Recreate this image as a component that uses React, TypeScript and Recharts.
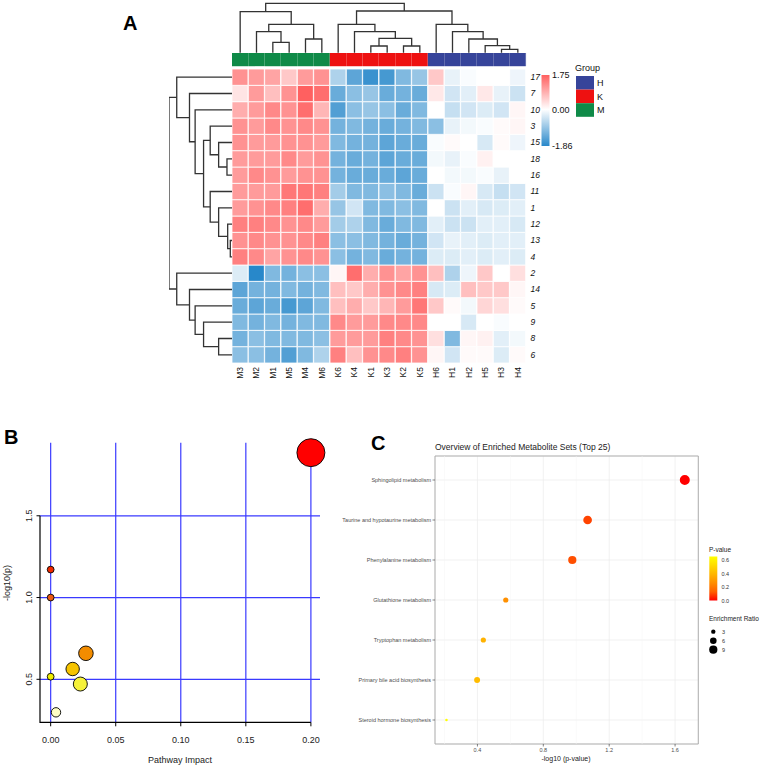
import React from 'react';
import {
  BarChart, Bar, Cell, XAxis, YAxis, ComposedChart, Line, ScatterChart, Scatter, ZAxis,
  CartesianGrid, ReferenceLine, ReferenceArea,
} from 'recharts';

const FONT = '"Liberation Sans", Arial, Helvetica, sans-serif';

// ---------------- Panel A data ----------------
const columns = ['M3', 'M2', 'M1', 'M5', 'M4', 'M6', 'K6', 'K4', 'K1', 'K3', 'K2', 'K5', 'H6', 'H1', 'H2', 'H5', 'H3', 'H4'];
const columnGroups = ['M', 'M', 'M', 'M', 'M', 'M', 'K', 'K', 'K', 'K', 'K', 'K', 'H', 'H', 'H', 'H', 'H', 'H'];
const rowLabels = ['17', '7', '10', '3', '15', '18', '16', '11', '1', '12', '13', '4', '2', '14', '5', '9', '8', '6'];
const zScores: number[][] = [
  [1.2, 1.1, 1.0, 0.6, 1.1, 1.2, -0.7, -1.4, -1.7, -1.6, -1.1, -0.9, 0.6, -0.2, -0.05, 0.0, 0.0, -0.15],
  [0.3, 1.1, 0.7, 1.2, 1.75, 1.6, -1.3, -1.0, -0.9, -1.3, -1.2, -1.3, 0.25, -0.4, -0.25, 0.25, -0.2, -0.45],
  [0.9, 1.1, 1.3, 1.2, 1.6, 0.8, -1.5, -1.0, -0.9, -1.0, -1.3, -1.1, 0.0, -0.5, -0.4, -0.3, -0.4, 0.1],
  [1.2, 1.1, 1.3, 1.2, 1.3, 1.2, -1.2, -1.1, -1.2, -1.3, -1.2, -1.1, -1.0, -0.2, -0.1, -0.05, 0.05, 0.1],
  [1.2, 1.1, 1.1, 1.2, 1.2, 1.1, -1.1, -1.2, -1.2, -1.4, -1.3, -1.3, -0.05, 0.05, 0.0, -0.35, 0.05, -0.15],
  [1.1, 1.1, 1.1, 1.3, 1.1, 1.2, -1.2, -1.3, -1.2, -1.4, -1.3, -1.3, -0.1, -0.2, -0.05, 0.15, 0.0, 0.0],
  [1.1, 1.3, 1.2, 1.1, 1.2, 1.2, -1.2, -1.3, -1.3, -1.3, -1.4, -1.3, 0.0, -0.1, -0.1, -0.05, -0.2, 0.0],
  [1.1, 1.1, 1.1, 1.5, 1.5, 1.4, -0.8, -1.1, -1.1, -1.0, -1.1, -1.3, -0.45, -0.05, 0.1, -0.35, -0.5, -0.4],
  [1.1, 1.2, 1.3, 1.4, 1.6, 0.9, -0.9, -0.4, -1.1, -1.1, -1.0, -1.1, 0.0, -0.45, -0.25, -0.35, -0.3, -0.25],
  [1.4, 1.4, 1.3, 1.2, 1.3, 1.1, -0.8, -0.7, -1.1, -1.3, -1.1, -1.1, -0.25, -0.45, -0.45, -0.25, -0.25, -0.35],
  [1.2, 1.3, 1.2, 1.2, 1.3, 1.4, -1.0, -1.0, -1.1, -1.2, -1.3, -1.2, -0.4, -0.2, -0.25, -0.3, -0.25, -0.25],
  [1.4, 1.3, 1.0, 1.2, 1.3, 1.2, -1.0, -1.2, -1.1, -1.3, -1.2, -1.2, -0.3, -0.3, -0.25, -0.3, -0.25, -0.3],
  [-0.3, -1.86, -1.1, -1.2, -1.0, -1.0, 0.1, 1.6, 0.9, 1.2, 1.0, 1.2, 0.7, -0.7, -0.15, 0.6, 0.0, 0.35],
  [-1.4, -1.2, -1.2, -1.1, -1.2, -1.1, 0.7, 0.6, 0.9, 1.2, 1.3, 1.4, -0.35, -0.3, 0.7, 0.6, 0.6, 0.1],
  [-1.3, -1.4, -1.3, -1.6, -1.4, -1.1, 0.7, 0.9, 0.6, 0.8, 1.1, 1.5, 0.6, 0.05, -0.1, 0.45, 0.35, 0.05],
  [-1.1, -1.2, -1.1, -1.2, -1.1, -1.1, 1.3, 1.1, 1.1, 1.3, 1.3, 1.3, 0.0, 0.0, -0.35, 0.0, -0.05, 0.0],
  [-1.2, -1.0, -1.1, -1.1, -1.1, -1.0, 1.1, 1.1, 1.1, 1.4, 1.3, 1.2, 0.35, -1.1, 0.1, 0.15, -0.25, -0.1],
  [-1.0, -1.0, -1.2, -1.5, -1.1, -0.7, 1.4, 0.7, 1.2, 1.3, 1.4, 1.2, 0.1, -0.4, 0.05, 0.05, -0.3, 0.05],
];
const zMax = 1.75;
const zMin = -1.86;
// hclust-style merges: negative = leaf (1-based), positive = earlier merge (1-based), then height
const colMerges: [number, number, number][] = [
  [-3, -4, 10.4], [-2, 1, 21], [-5, -6, 13.7], [2, 3, 28.4], [-1, 4, 41],
  [-9, -10, 6.7], [-11, -12, 6.7], [6, 7, 14.4], [-8, 8, 21], [-7, 9, 28.4],
  [-17, -18, 3.4], [-16, 11, 7], [-15, 12, 13.7], [-14, 13, 21], [-13, 14, 28.4],
  [10, 15, 41.7], [5, 16, 49.4],
];
const rowMerges: [number, number, number][] = [
  [-6, -7, 5], [-5, 1, 13.3], [-4, 2, 21.7], [-11, -12, 1.7], [-10, 4, 4.3],
  [-9, 5, 13.3], [-8, 6, 21.7], [3, 7, 28.3], [-3, 8, 36.7], [-2, 9, 42.3],
  [-1, 10, 55], [-17, -18, 13.3], [-16, 12, 28.3], [-15, 13, 36.7], [-14, 14, 42.3],
  [-13, 15, 55], [11, 16, 62.7],
];
const groupNames = ['H', 'K', 'M'];
const groupColors: Record<string, string> = { H: '#36449a', K: '#ee1111', M: '#0f8a48' };
const heatLegendTicks = [1.75, 0.0, -1.86];

// ---------------- Panel B data ----------------
const pathwayImpact = [0.2, 0, 0, 0.0271, 0.0169, 0, 0.0228, 0.0041];
const pathwayNegLogP = [1.886, 1.171, 1.0, 0.659, 0.563, 0.516, 0.471, 0.298];
const pathwayBubble = [196, 11.6, 11.6, 53, 45, 11.6, 49, 22];
const pathwayPalette = ['#ff0000', '#f02a00', '#ec5a12', '#f28c00', '#f6c400', '#f0ee00', '#f6f23a', '#ffffc4'];
const bXTicks = [0, 0.05, 0.1, 0.15, 0.2];
const bYTicks = [0.5, 1.0, 1.5];
const bXDomain: [number, number] = [-0.0082, 0.207];
const bYDomain: [number, number] = [0.237, 1.947];

// ---------------- Panel C data ----------------
const setNames = [
  'Sphingolipid metabolism',
  'Taurine and hypotaurine metabolism',
  'Phenylalanine metabolism',
  'Glutathione metabolism',
  'Tryptophan metabolism',
  'Primary bile acid biosynthesis',
  'Steroid hormone biosynthesis',
];
const setNegLogP = [1.659, 1.069, 0.976, 0.572, 0.436, 0.398, 0.212];
const setRatio = [13, 10, 9, 4, 4, 5, 1.5];
const cXTicks = [0.4, 0.8, 1.2, 1.6];
const cXMinor = [0.2, 0.6, 1.0, 1.4];
const pLegendTicks = [0.6, 0.4, 0.2, 0.0];
const ratioLegend = [3, 6, 9];

// ---------------- helpers ----------------
function heatColor(v: number) {
  const hi = [255, 96, 96];
  const lo = [40, 136, 202];
  const t = v >= 0 ? Math.min(v / zMax, 1) : Math.min(v / zMin, 1);
  const end = v >= 0 ? hi : lo;
  const c = end.map((e) => Math.round(255 + (e - 255) * t));
  return `rgb(${c.join(',')})`;
}

function labToRgb(L: number, a: number, b: number) {
  let y = (L + 16) / 116;
  let x = a / 500 + y;
  let z = y - b / 200;
  const f = (t: number) => (t ** 3 > 0.008856 ? t ** 3 : (t - 16 / 116) / 7.787);
  x = 0.95047 * f(x); y = f(y); z = 1.08883 * f(z);
  const r = x * 3.2406 + y * -1.5372 + z * -0.4986;
  const g = x * -0.9689 + y * 1.8758 + z * 0.0415;
  const bb = x * 0.0557 + y * -0.204 + z * 1.057;
  const gam = (c: number) => (c > 0.0031308 ? 1.055 * c ** (1 / 2.4) - 0.055 : 12.92 * c);
  return [r, g, bb].map((c) => Math.round(Math.max(0, Math.min(1, gam(c))) * 255));
}
const setP = setNegLogP.map((v) => Math.pow(10, -v));
const pMin = Math.min(...setP);
const pMax = Math.max(...setP);
function pColor(p: number) {
  const t = Math.max(0, Math.min(1, (p - pMin) / (pMax - pMin)));
  const red = [53.24, 80.09, 67.2];
  const yel = [97.14, -21.55, 94.48];
  const c = labToRgb(red[0] + (yel[0] - red[0]) * t, red[1] + (yel[1] - red[1]) * t, red[2] + (yel[2] - red[2]) * t);
  return `rgb(${c.join(',')})`;
}
const ratioDomain: [number, number] = [1.5, 13];
const ratioRange: [number, number] = [5.3, 78.5];
const ratioRadius = (r: number) =>
  Math.sqrt((ratioRange[0] + ((r - ratioDomain[0]) / (ratioDomain[1] - ratioDomain[0])) * (ratioRange[1] - ratioRange[0])) / Math.PI);

function dendroSegments(merges: [number, number, number][]) {
  const pos: number[] = [];
  const hgt: number[] = [];
  const get = (id: number) => (id < 0 ? { p: -id - 1 + 0.5, h: 0 } : { p: pos[id - 1], h: hgt[id - 1] });
  return merges.map(([a, b, h], i) => {
    const A = get(a);
    const B = get(b);
    pos[i] = (A.p + B.p) / 2;
    hgt[i] = h;
    return [
      { p: A.p, h: A.h },
      { p: A.p, h },
      { p: B.p, h },
      { p: B.p, h: B.h },
    ];
  });
}

const colSegs = dendroSegments(colMerges);
const rowSegs = dendroSegments(rowMerges);

const heatData = columns.map((c) => {
  const o: Record<string, any> = { col: c, gap: 0.18, grp: 0.8 };
  rowLabels.forEach((_, ri) => { o['r' + ri] = 1; });
  return o;
});
const rowOrderBottomUp = rowLabels.map((_, i) => rowLabels.length - 1 - i);
const rowTicks = rowLabels.map((_, i) => rowLabels.length - i - 0.5);

const bData = pathwayImpact.map((x, i) => ({ x, y: pathwayNegLogP[i], z: pathwayBubble[i] }));
// R-style "L" axis frame: from the top y tick down to the bottom, then to the last x tick
const bFrame = [
  { x: bXDomain[0], y: Math.max(...bYTicks) },
  { x: bXDomain[0], y: bYDomain[0] },
  { x: Math.max(...bXTicks), y: bYDomain[0] },
];
const cData = setNames.map((n, i) => ({ x: setNegLogP[i], y: i + 1, z: setRatio[i], name: n }));

// Panel B geometry (chart size, margins and axis sizes)
const bW = 340;
const bH = 347;
const bTop = 22.7;
const bRight = 20;
const bYAxisW = 40;
const bXAxisH = 44.7;
// the frame overlay uses a plot area padded by a few pixels so the frame lies inside it
const pad = 10;
const bPlotW = bW - bYAxisW - bRight;
const bPlotH = bH - bTop - bXAxisH;
const bXDomainPadded: [number, number] = [bXDomain[0] - (pad * (bXDomain[1] - bXDomain[0])) / bPlotW, bXDomain[1]];
const bYDomainPadded: [number, number] = [bYDomain[0] - (pad * (bYDomain[1] - bYDomain[0])) / bPlotH, bYDomain[1]];

// ---------------- tick renderers ----------------
const ColTick = (props: any) => {
  const { x, y, payload } = props;
  return (
    <text transform={`translate(${x},${y}) rotate(-90)`} textAnchor="end" dy="0.35em" fontSize={8.5} fill="#111" fontFamily={FONT}>
      {payload.value}
    </text>
  );
};
const RowTick = (props: any) => {
  const { x, y, payload } = props;
  const idx = Math.round(rowLabels.length - 0.5 - payload.value);
  return (
    <text x={x} y={y} dy="0.35em" fontSize={8.5} fontStyle="italic" fill="#111" fontFamily={FONT}>
      {rowLabels[idx]}
    </text>
  );
};
const BYTick = (props: any) => {
  const { x, y, payload } = props;
  const bx = x - 2.5;
  return (
    <text x={bx} y={y} transform={`rotate(-90 ${bx} ${y})`} textAnchor="middle" fontSize={9} fill="#222" fontFamily={FONT}>
      {Number(payload.value).toFixed(1)}
    </text>
  );
};
const CYTick = (props: any) => {
  const { x, y, payload } = props;
  return (
    <text x={x} y={y} dy="0.35em" textAnchor="end" fontSize={5.5} fill="#4d4d4d" fontFamily={FONT}>
      {setNames[Math.round(payload.value) - 1]}
    </text>
  );
};

const lineProps = { stroke: '#333', strokeWidth: 1.3, dot: false, isAnimationActive: false, type: 'linear' as const, activeDot: false };

export default function App() {
  return (
    <div style={{ position: 'absolute', left: 0, top: 0, width: 768, height: 767, background: '#fff', fontFamily: FONT, overflow: 'hidden' }}>
      {/* Top dendrogram */}
      <div style={{ position: 'absolute', left: 232, top: 0 }}>
        <ComposedChart width={294} height={53} margin={{ top: 0, right: 0, bottom: 0, left: 0 }}>
          <XAxis type="number" dataKey="p" domain={[0, 18]} hide />
          <YAxis type="number" domain={[-0.3, 52.7]} hide />
          {colSegs.map((d, i) => (
            <Line key={i} data={d} dataKey="h" {...lineProps} />
          ))}
        </ComposedChart>
      </div>
      {/* Left dendrogram */}
      <div style={{ position: 'absolute', left: 169, top: 69 }}>
        <ComposedChart width={63} height={294} margin={{ top: 0, right: 0, bottom: 0, left: 0 }}>
          <XAxis type="number" dataKey="h" domain={[0, 62.7]} reversed hide />
          <YAxis type="number" domain={[0, 18]} reversed hide />
          {rowSegs.map((d, i) => (
            <Line key={i} data={d} dataKey="p" {...lineProps} />
          ))}
        </ComposedChart>
      </div>
      {/* Heatmap */}
      <div style={{ position: 'absolute', left: 232, top: 53 }}>
        <BarChart width={324} height={340} data={heatData} margin={{ top: 0, right: 0, bottom: 0, left: 0 }} barCategoryGap={0} barGap={0}>
          <XAxis dataKey="col" type="category" height={30} tickLine={false} axisLine={false} tickSize={0} tickMargin={4} tick={<ColTick />} interval={0} />
          <YAxis type="number" orientation="right" domain={[0, 18.98]} ticks={rowTicks} width={30} tickLine={false} axisLine={false} tickSize={0} tickMargin={4.5} tick={<RowTick />} interval={0} />
          {rowOrderBottomUp.map((ri) => (
            <Bar key={ri} dataKey={'r' + ri} stackId="a" isAnimationActive={false}>
              {columns.map((c, ci) => (
                <Cell key={c} fill={heatColor(zScores[ri][ci])} stroke="#ffffff" strokeWidth={0.8} />
              ))}
            </Bar>
          ))}
          <Bar dataKey="gap" stackId="a" fill="none" isAnimationActive={false} />
          <Bar dataKey="grp" stackId="a" isAnimationActive={false}>
            {columns.map((c, ci) => (
              <Cell key={c} fill={groupColors[columnGroups[ci]]} stroke={groupColors[columnGroups[ci]]} strokeWidth={0.3} />
            ))}
          </Bar>
        </BarChart>
      </div>

      {/* Panel B */}
      <div style={{ position: 'absolute', left: 0, top: 420 }}>
        <ComposedChart width={bW} height={bH} margin={{ top: bTop, right: bRight, bottom: 0, left: 0 }}>
          <XAxis type="number" dataKey="x" domain={bXDomain} ticks={bXTicks} height={bXAxisH} axisLine={false} tickSize={4} tickMargin={10} tickLine={{ stroke: '#000' }}
            tickFormatter={(v: number) => v.toFixed(2)} tick={{ fontSize: 9, fill: '#222', fontFamily: FONT }} interval={0} />
          <YAxis type="number" dataKey="y" domain={bYDomain} ticks={bYTicks} width={bYAxisW} axisLine={false} tickSize={3.5} tickMargin={2} tickLine={{ stroke: '#000' }}
            tick={<BYTick />} interval={0} />
          <ZAxis type="number" dataKey="z" domain={[0, 196]} range={[0, 615.75]} />
          {bXTicks.map((v) => (
            <ReferenceLine key={'vx' + v} x={v} stroke="#3a3aff" strokeWidth={1.2} />
          ))}
          {bYTicks.map((v) => (
            <ReferenceLine key={'hy' + v} y={v} stroke="#3a3aff" strokeWidth={1.2} />
          ))}
          <Scatter data={bData} dataKey="y" isAnimationActive={false} stroke="#000" strokeWidth={0.9}>
            {bData.map((d, i) => (
              <Cell key={i} fill={pathwayPalette[i]} />
            ))}
          </Scatter>
        </ComposedChart>
      </div>
      {/* Panel B: R-style L-shaped axis frame on the same scale */}
      <div style={{ position: 'absolute', left: 0, top: 420, pointerEvents: 'none' }}>
        <ComposedChart width={bW} height={bH} margin={{ top: bTop, right: bRight, bottom: bXAxisH - pad, left: bYAxisW - pad }}>
          <XAxis type="number" dataKey="x" domain={bXDomainPadded} hide />
          <YAxis type="number" domain={bYDomainPadded} hide />
          <Line data={bFrame} dataKey="y" stroke="#000" strokeWidth={1.2} dot={false} activeDot={false} type="linear" isAnimationActive={false} />
        </ComposedChart>
      </div>

      {/* Panel C */}
      <div style={{ position: 'absolute', left: 300, top: 450 }}>
        <ScatterChart width={400} height={310} margin={{ top: 6, right: 1.7, bottom: 0, left: 0 }}>
          <CartesianGrid stroke="#ebebeb" strokeWidth={0.7} />
          {cXMinor.map((v) => (
            <ReferenceLine key={v} x={v} stroke="#f4f4f4" strokeWidth={0.5} />
          ))}
          <ReferenceArea x1={0.1424} x2={1.741} y1={0.4} y2={7.6} fill="none" stroke="#a8a8a8" strokeWidth={0.9} ifOverflow="visible" />
          <XAxis type="number" dataKey="x" domain={[0.1424, 1.741]} ticks={cXTicks} height={16} axisLine={false} tickSize={2.5} tickMargin={1.5}
            tickLine={{ stroke: '#333', strokeWidth: 0.6 }} tick={{ fontSize: 5.5, fill: '#4d4d4d', fontFamily: FONT }} interval={0}
            tickFormatter={(v: number) => v.toFixed(1)} />
          <YAxis type="number" dataKey="y" domain={[0.4, 7.6]} reversed ticks={setNames.map((_, i) => i + 1)} width={135} axisLine={false} tickSize={2.5} tickMargin={1.5}
            tickLine={{ stroke: '#333', strokeWidth: 0.6 }} tick={<CYTick />} interval={0} />
          <ZAxis type="number" dataKey="z" domain={ratioDomain} range={ratioRange} />
          <Scatter data={cData} isAnimationActive={false}>
            {cData.map((d, i) => (
              <Cell key={i} fill={pColor(setP[i])} />
            ))}
          </Scatter>
        </ScatterChart>
      </div>

      {/* Overlay texts and legends */}
      <svg width={768} height={767} style={{ position: 'absolute', left: 0, top: 0, pointerEvents: 'none' }} fontFamily={FONT}>
        <defs>
          <linearGradient id="heatGrad" x1="0" y1="0" x2="0" y2="1">
            <stop offset="0" stopColor={heatColor(zMax)} />
            <stop offset={String(zMax / (zMax - zMin))} stopColor="#ffffff" />
            <stop offset="1" stopColor={heatColor(zMin)} />
          </linearGradient>
          <linearGradient id="pGrad" x1="0" y1="0" x2="0" y2="1">
            {[0, 0.2, 0.4, 0.6, 0.8, 1].map((t) => (
              <stop key={t} offset={String(t)} stopColor={pColor(pMax - t * (pMax - pMin))} />
            ))}
          </linearGradient>
        </defs>
        <text x={123} y={30} fontSize={20} fontWeight="bold" fill="#000">A</text>
        <text x={4} y={444} fontSize={20} fontWeight="bold" fill="#000">B</text>
        <text x={371} y={450} fontSize={20} fontWeight="bold" fill="#000">C</text>

        {/* heatmap colour legend */}
        <rect x={541.5} y={75} width={8} height={71} fill="url(#heatGrad)" />
        {heatLegendTicks.map((v) => (
          <text key={v} x={552} y={75 + ((zMax - v) / (zMax - zMin)) * 71} dy="0.35em" fontSize={9} fill="#111">
            {v.toFixed(2)}
          </text>
        ))}
        {/* group legend */}
        <text x={575} y={71} fontSize={9} fill="#111">Group</text>
        {groupNames.map((g, i) => (
          <g key={g}>
            <rect x={576} y={76 + i * 13.6} width={18} height={13.6} fill={groupColors[g]} />
            <text x={597} y={76 + i * 13.6 + 6.8} dy="0.35em" fontSize={9} fill="#111">{g}</text>
          </g>
        ))}

        {/* Panel B axis titles */}
        <text x={180} y={763} textAnchor="middle" fontSize={9} fill="#222">Pathway Impact</text>
        <text x={10} y={583} textAnchor="middle" fontSize={9} fill="#222" transform="rotate(-90 10 583)">-log10(p)</text>

        {/* Panel C titles */}
        <text x={435} y={450} fontSize={8.5} fill="#222">Overview of Enriched Metabolite Sets (Top 25)</text>
        <text x={566} y={761} textAnchor="middle" fontSize={7} fill="#222">-log10 (p-value)</text>

        {/* Panel C legend */}
        <text x={709} y={552} fontSize={6.5} fill="#222">P-value</text>
        <rect x={709.3} y={556.5} width={8} height={44} fill="url(#pGrad)" />
        {pLegendTicks.map((v) => (
          <text key={v} x={721.5} y={601 - v * 68.3} dy="0.35em" fontSize={5.5} fill="#333">{v.toFixed(1)}</text>
        ))}
        <text x={709} y={621} fontSize={6.5} fill="#222">Enrichment Ratio</text>
        {ratioLegend.map((r, i) => (
          <g key={r}>
            <circle cx={713.3} cy={631.7 + i * 9} r={ratioRadius(r)} fill="#000" />
            <text x={722} y={631.7 + i * 9} dy="0.35em" fontSize={5.5} fill="#333">{r}</text>
          </g>
        ))}
      </svg>
    </div>
  );
}
